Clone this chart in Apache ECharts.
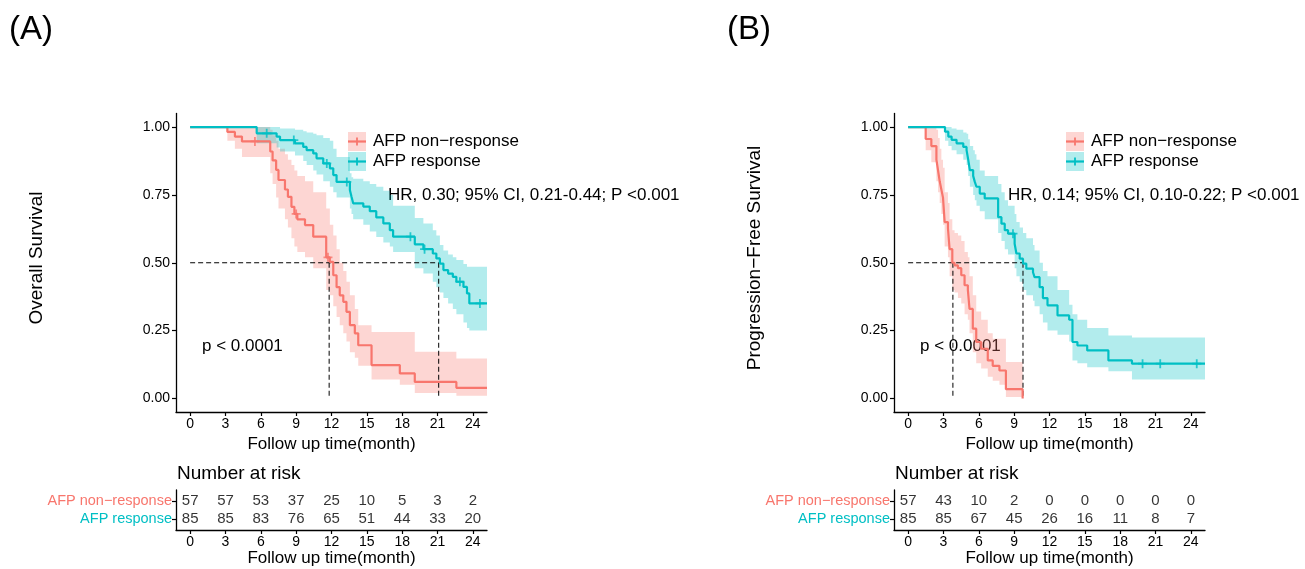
<!DOCTYPE html>
<html>
<head>
<meta charset="utf-8">
<script src="https://cdn.jsdelivr.net/npm/echarts@6/dist/echarts.min.js"></script>
<style>
  html, body { margin: 0; padding: 0; background: #fff; }
  #chart { width: 1305px; height: 569px; }
</style>
</head>
<body>
<div id="chart"></div>
<script>
(function () {

    var RED = '#F8766D';
    var TEAL = '#00BFC4';
    var FONT = '"Liberation Sans", Arial, sans-serif';

    var groupNames = ['AFP non\u2212response', 'AFP response'];
    var xTicks = [0, 3, 6, 9, 12, 15, 18, 21, 24];
    var yTicks = [0, 0.25, 0.5, 0.75, 1];

    // (A) overall survival, AFP non-response
    var tA_non = [0, 3.16, 3.8, 4.4, 6.8, 7.0, 7.3, 7.5, 8.05, 8.3, 8.6, 8.85, 9.1, 9.75, 10.45, 11.55, 11.86, 12.15, 12.43, 12.7, 13.0, 13.27, 13.56, 13.98, 14.27, 15.4, 17.8, 19.07, 22.6, 25.2];
    var sA_non = [1, 0.982, 0.965, 0.947, 0.91, 0.877, 0.842, 0.805, 0.77, 0.743, 0.706, 0.68, 0.66, 0.639, 0.596, 0.52, 0.503, 0.454, 0.41, 0.38, 0.356, 0.319, 0.27, 0.24, 0.196, 0.123, 0.092, 0.061, 0.039, 0.039];
    var loA_non = [1, 0.95, 0.92, 0.89, 0.83, 0.79, 0.74, 0.70, 0.66, 0.63, 0.59, 0.56, 0.54, 0.52, 0.48, 0.40, 0.38, 0.34, 0.30, 0.27, 0.24, 0.21, 0.17, 0.15, 0.12, 0.07, 0.05, 0.02, 0.01, 0.01];
    var upA_non = [1, 1, 1, 1, 0.99, 0.97, 0.95, 0.92, 0.90, 0.88, 0.86, 0.84, 0.82, 0.80, 0.76, 0.70, 0.64, 0.60, 0.55, 0.50, 0.47, 0.43, 0.38, 0.33, 0.27, 0.245, 0.245, 0.172, 0.147, 0.147];
    var cA_non = [5.5, 9.0, 11.7];

    // (A) overall survival, AFP response
    var tA_res = [0, 5.65, 7.34, 7.63, 8.9, 9.6, 9.89, 10.45, 10.73, 11.3, 11.86, 12.15, 12.43, 13.56, 13.7, 13.84, 14.7, 15.25, 15.8, 16.4, 16.95, 17.23, 19.07, 19.8, 20.6, 20.9, 21.2, 21.5, 21.9, 22.3, 22.6, 23.2, 23.5, 23.7, 25.2];
    var sA_res = [1, 0.977, 0.965, 0.952, 0.94, 0.927, 0.915, 0.903, 0.885, 0.866, 0.848, 0.823, 0.798, 0.768, 0.743, 0.719, 0.707, 0.69, 0.667, 0.645, 0.62, 0.596, 0.568, 0.55, 0.534, 0.516, 0.497, 0.473, 0.46, 0.448, 0.43, 0.411, 0.387, 0.35, 0.35];
    var loA_res = [1, 0.94, 0.925, 0.91, 0.895, 0.875, 0.86, 0.84, 0.825, 0.80, 0.78, 0.76, 0.74, 0.70, 0.68, 0.66, 0.64, 0.615, 0.595, 0.575, 0.56, 0.54, 0.48, 0.46, 0.43, 0.41, 0.39, 0.37, 0.35, 0.33, 0.31, 0.28, 0.26, 0.25, 0.25];
    var upA_res = [1, 1, 1, 0.995, 0.99, 0.985, 0.98, 0.975, 0.97, 0.96, 0.95, 0.92, 0.89, 0.83, 0.815, 0.81, 0.80, 0.79, 0.78, 0.765, 0.75, 0.71, 0.665, 0.645, 0.62, 0.60, 0.565, 0.545, 0.53, 0.52, 0.51, 0.495, 0.485, 0.485, 0.485];
    var cA_res = [6.5, 8.8, 11.6, 13.3, 18.7, 19.9, 22.9, 24.6];

    // (B) progression-free survival, AFP non-response
    var tB_non = [0, 1.49, 1.97, 2.4, 2.54, 2.68, 2.82, 2.96, 3.1, 3.38, 3.52, 3.75, 3.94, 4.23, 4.51, 4.79, 5.07, 5.21, 5.49, 5.78, 6.2, 6.76, 7.18, 7.75, 8.3, 9.72];
    var sB_non = [1, 0.956, 0.93, 0.88, 0.84, 0.80, 0.77, 0.74, 0.65, 0.627, 0.55, 0.50, 0.49, 0.48, 0.454, 0.417, 0.40, 0.33, 0.257, 0.208, 0.183, 0.14, 0.12, 0.103, 0.034, 0];
    var loB_non = [1, 0.915, 0.87, 0.80, 0.76, 0.72, 0.68, 0.64, 0.56, 0.52, 0.45, 0.40, 0.39, 0.37, 0.35, 0.31, 0.29, 0.24, 0.17, 0.13, 0.11, 0.08, 0.065, 0.05, 0.005, 0];
    var upB_non = [1, 1, 1, 0.99, 0.96, 0.92, 0.88, 0.85, 0.76, 0.72, 0.66, 0.62, 0.61, 0.60, 0.58, 0.54, 0.52, 0.45, 0.38, 0.32, 0.29, 0.24, 0.22, 0.22, 0.134, 0];
    var cB_non = [];

    // (B) progression-free survival, AFP response
    var tB_res = [0, 3.13, 3.41, 3.69, 4.11, 4.68, 4.96, 5.1, 5.24, 5.52, 5.66, 5.8, 6.08, 6.5, 7.64, 7.92, 8.2, 8.48, 9.04, 9.19, 9.47, 9.75, 10.03, 10.6, 10.73, 11.16, 11.44, 11.83, 12.68, 13.67, 13.95, 14.37, 15.2, 17.0, 19.0, 25.2];
    var sB_res = [1, 0.983, 0.965, 0.953, 0.94, 0.927, 0.915, 0.88, 0.841, 0.82, 0.798, 0.78, 0.755, 0.737, 0.668, 0.644, 0.62, 0.607, 0.57, 0.534, 0.515, 0.497, 0.478, 0.465, 0.447, 0.41, 0.37, 0.343, 0.306, 0.29, 0.208, 0.195, 0.177, 0.14, 0.128, 0.128];
    var loB_res = [1, 0.95, 0.93, 0.915, 0.90, 0.88, 0.86, 0.82, 0.78, 0.75, 0.73, 0.71, 0.69, 0.66, 0.61, 0.58, 0.55, 0.53, 0.48, 0.45, 0.43, 0.40, 0.38, 0.36, 0.34, 0.31, 0.28, 0.25, 0.235, 0.21, 0.14, 0.13, 0.115, 0.10, 0.07, 0.07];
    var upB_res = [1, 1, 1, 0.995, 0.99, 0.98, 0.975, 0.955, 0.93, 0.915, 0.90, 0.88, 0.84, 0.82, 0.79, 0.76, 0.73, 0.71, 0.68, 0.65, 0.63, 0.61, 0.59, 0.565, 0.545, 0.50, 0.47, 0.45, 0.40, 0.345, 0.31, 0.29, 0.26, 0.232, 0.225, 0.225];
    var cB_res = [8.9, 19.9, 21.4, 24.5];

    // median survival times (non-response, response)
    var mediansA = [11.8, 21.1];
    var mediansB = [3.8, 9.75];

    // number at risk
    var riskTimes = [0, 3, 6, 9, 12, 15, 18, 21, 24];
    var riskA_non = [57, 57, 53, 37, 25, 10, 5, 3, 2];
    var riskA_res = [85, 85, 83, 76, 65, 51, 44, 33, 20];
    var riskB_non = [57, 43, 10, 2, 0, 0, 0, 0, 0];
    var riskB_res = [85, 85, 67, 45, 26, 16, 11, 8, 7];

    var axisLine = { show: true, onZero: false, lineStyle: { color: '#000', width: 1.3 } };
    var plus = 'path://M0.8,0H1.2V0.8H2V1.2H1.2V2H0.8V1.2H0V0.8H0.8Z';

    function survAt(times, surv, t) {
        var s = surv[0];
        for (var i = 0; i < times.length; i++) {
            if (times[i] <= t) s = surv[i];
        }
        return s;
    }

    // confidence band as one step-shaped polygon, built from the data through api.coord
    function bandSeries(idx, t, lo, up, color) {
        return {
            type: 'custom', xAxisIndex: idx, yAxisIndex: idx, silent: true, z: 1,
            data: t.map(function (x, i) { return [x, lo[i], up[i]]; }),
            renderItem: function (params, api) {
                if (params.dataIndex !== 0) return null;
                var top = [], bottom = [];
                for (var i = 0; i < t.length; i++) {
                    var next = i < t.length - 1 ? t[i + 1] : t[i];
                    top.push(api.coord([t[i], up[i]]), api.coord([next, up[i]]));
                    bottom.push(api.coord([t[i], lo[i]]), api.coord([next, lo[i]]));
                }
                return {
                    type: 'polygon',
                    shape: { points: top.concat(bottom.reverse()) },
                    style: { fill: color, opacity: 0.3 }
                };
            }
        };
    }

    function curveSeries(idx, t, s, lo, up, censor, color) {
        var list = [bandSeries(idx, t, lo, up, color)];
        list.push({
            type: 'line', xAxisIndex: idx, yAxisIndex: idx, step: 'end',
            symbol: 'none', silent: true, z: 4,
            lineStyle: { color: color, width: 2.2 },
            data: t.map(function (x, i) { return [x, s[i]]; })
        });
        if (censor.length) {
            list.push({
                type: 'scatter', xAxisIndex: idx, yAxisIndex: idx,
                symbol: plus, symbolSize: 9, silent: true, z: 5,
                itemStyle: { color: color },
                data: censor.map(function (c) { return [c, survAt(t, s, c)]; })
            });
        }
        return list;
    }

    function medianSeries(idx, medians) {
        var dash = { color: '#000', width: 1, type: [5, 3] };
        var list = [{
            type: 'line', xAxisIndex: idx, yAxisIndex: idx, symbol: 'none', silent: true, z: 3,
            lineStyle: dash,
            data: [[0, 0.5], [Math.max.apply(null, medians), 0.5]]
        }];
        medians.forEach(function (m) {
            list.push({
                type: 'line', xAxisIndex: idx, yAxisIndex: idx, symbol: 'none', silent: true, z: 3,
                lineStyle: dash,
                data: [[m, 0.5], [m, 0]]
            });
        });
        return list;
    }

    function riskSeries(idx, nonArr, resArr) {
        var data = [];
        riskTimes.forEach(function (t, i) {
            data.push([t, 2, nonArr[i]]);
            data.push([t, 1, resArr[i]]);
        });
        return {
            type: 'scatter', xAxisIndex: idx, yAxisIndex: idx,
            symbolSize: 1, itemStyle: { color: 'rgba(0,0,0,0)' }, silent: true,
            label: {
                show: true, position: 'inside', color: '#000', fontSize: 15, fontFamily: FONT,
                formatter: function (p) { return String(p.value[2]); }
            },
            data: data
        };
    }

    function xAxisFor(grid) {
        return {
            type: 'value', gridIndex: grid, min: -1.2, max: 25.2,
            axisLine: axisLine,
            axisTick: { show: true, length: 4, customValues: xTicks, lineStyle: { color: '#000', width: 1.2 } },
            axisLabel: { customValues: xTicks, color: '#000', fontSize: 14, fontFamily: FONT, margin: 5 },
            splitLine: { show: false },
            name: 'Follow up time(month)', nameLocation: 'middle', nameGap: 20,
            nameTextStyle: { color: '#000', fontSize: 17, fontFamily: FONT }
        };
    }

    function yMainFor(grid) {
        return {
            type: 'value', gridIndex: grid, min: -0.05, max: 1.05,
            axisLine: axisLine,
            axisTick: { show: true, length: 4, customValues: yTicks, lineStyle: { color: '#000', width: 1.2 } },
            axisLabel: {
                customValues: yTicks, color: '#000', fontSize: 14, fontFamily: FONT, margin: 6,
                formatter: function (v) { return v.toFixed(2); }
            },
            splitLine: { show: false }
        };
    }

    function yRiskFor(grid) {
        return {
            type: 'value', gridIndex: grid, min: 0.4, max: 2.6,
            axisLine: axisLine,
            axisTick: { show: true, length: 4, customValues: [1, 2], lineStyle: { color: '#000', width: 1.2 } },
            axisLabel: {
                customValues: [1, 2], margin: 4,
                formatter: function (v) {
                    return v === 2 ? '{a|' + groupNames[0] + '}' : '{b|' + groupNames[1] + '}';
                },
                rich: {
                    a: { color: RED, fontSize: 14.5, fontFamily: FONT },
                    b: { color: TEAL, fontSize: 14.5, fontFamily: FONT }
                }
            },
            splitLine: { show: false }
        };
    }

    function text(x, y, str, size, extra) {
        var el = {
            type: 'text', x: x, y: y, silent: true,
            style: { text: str, fontSize: size, fontFamily: FONT, fill: '#000', align: 'left', verticalAlign: 'middle' }
        };
        if (extra) {
            if (extra.rotation) el.rotation = extra.rotation;
            if (extra.align) el.style.align = extra.align;
        }
        return el;
    }

    function legendKey(x, y, color, fill) {
        return [
            { type: 'rect', silent: true, shape: { x: x, y: y, width: 18, height: 19 }, style: { fill: fill } },
            { type: 'line', silent: true, shape: { x1: x, y1: y + 9.5, x2: x + 18, y2: y + 9.5 }, style: { stroke: color, lineWidth: 2.2 } },
            { type: 'line', silent: true, shape: { x1: x + 9, y1: y + 5.5, x2: x + 9, y2: y + 13.5 }, style: { stroke: color, lineWidth: 1.8 } }
        ];
    }

    var series = [].concat(
        curveSeries(0, tA_non, sA_non, loA_non, upA_non, cA_non, RED),
        curveSeries(0, tA_res, sA_res, loA_res, upA_res, cA_res, TEAL),
        medianSeries(0, mediansA),
        [riskSeries(1, riskA_non, riskA_res)],
        curveSeries(2, tB_non, sB_non, loB_non, upB_non, cB_non, RED),
        curveSeries(2, tB_res, sB_res, loB_res, upB_res, cB_res, TEAL),
        medianSeries(2, mediansB),
        [riskSeries(3, riskB_non, riskB_res)]
    );

    var redFill = 'rgba(248,118,109,0.3)';
    var tealFill = 'rgba(0,191,196,0.3)';

    var graphic = [].concat(
        [
            text(9, 30, '(A)', 33),
            text(727, 30, '(B)', 33),
            text(37, 258, 'Overall Survival', 19, { rotation: Math.PI / 2, align: 'center' }),
            text(755, 258, 'Progression\u2212Free Survival', 19, { rotation: Math.PI / 2, align: 'center' }),
            text(177, 474, 'Number at risk', 19),
            text(895, 474, 'Number at risk', 19),
            text(388, 195, 'HR, 0.30; 95% CI, 0.21-0.44; P <0.001', 17),
            text(1008, 195, 'HR, 0.14; 95% CI, 0.10-0.22; P <0.001', 17),
            text(202, 346, 'p < 0.0001', 17),
            text(920, 346, 'p < 0.0001', 17),
            text(373, 141.5, groupNames[0], 17),
            text(373, 161.5, groupNames[1], 17),
            text(1091, 141.5, groupNames[0], 17),
            text(1091, 161.5, groupNames[1], 17)
        ],
        legendKey(348, 132, RED, redFill),
        legendKey(348, 152, TEAL, tealFill),
        legendKey(1066, 132, RED, redFill),
        legendKey(1066, 152, TEAL, tealFill)
    );

    var chart = echarts.init(document.getElementById('chart'), null, { renderer: 'canvas' });

    chart.setOption({
        animation: false,
        backgroundColor: '#fff',
        grid: [
            { left: 176, top: 113.5, width: 311, height: 298.5 },
            { left: 176, top: 490, width: 311, height: 40 },
            { left: 894, top: 113.5, width: 311, height: 298.5 },
            { left: 894, top: 490, width: 311, height: 40 }
        ],
        xAxis: [xAxisFor(0), xAxisFor(1), xAxisFor(2), xAxisFor(3)],
        yAxis: [yMainFor(0), yRiskFor(1), yMainFor(2), yRiskFor(3)],
        series: series,
        graphic: graphic
    });
})();
</script>
</body>
</html>
